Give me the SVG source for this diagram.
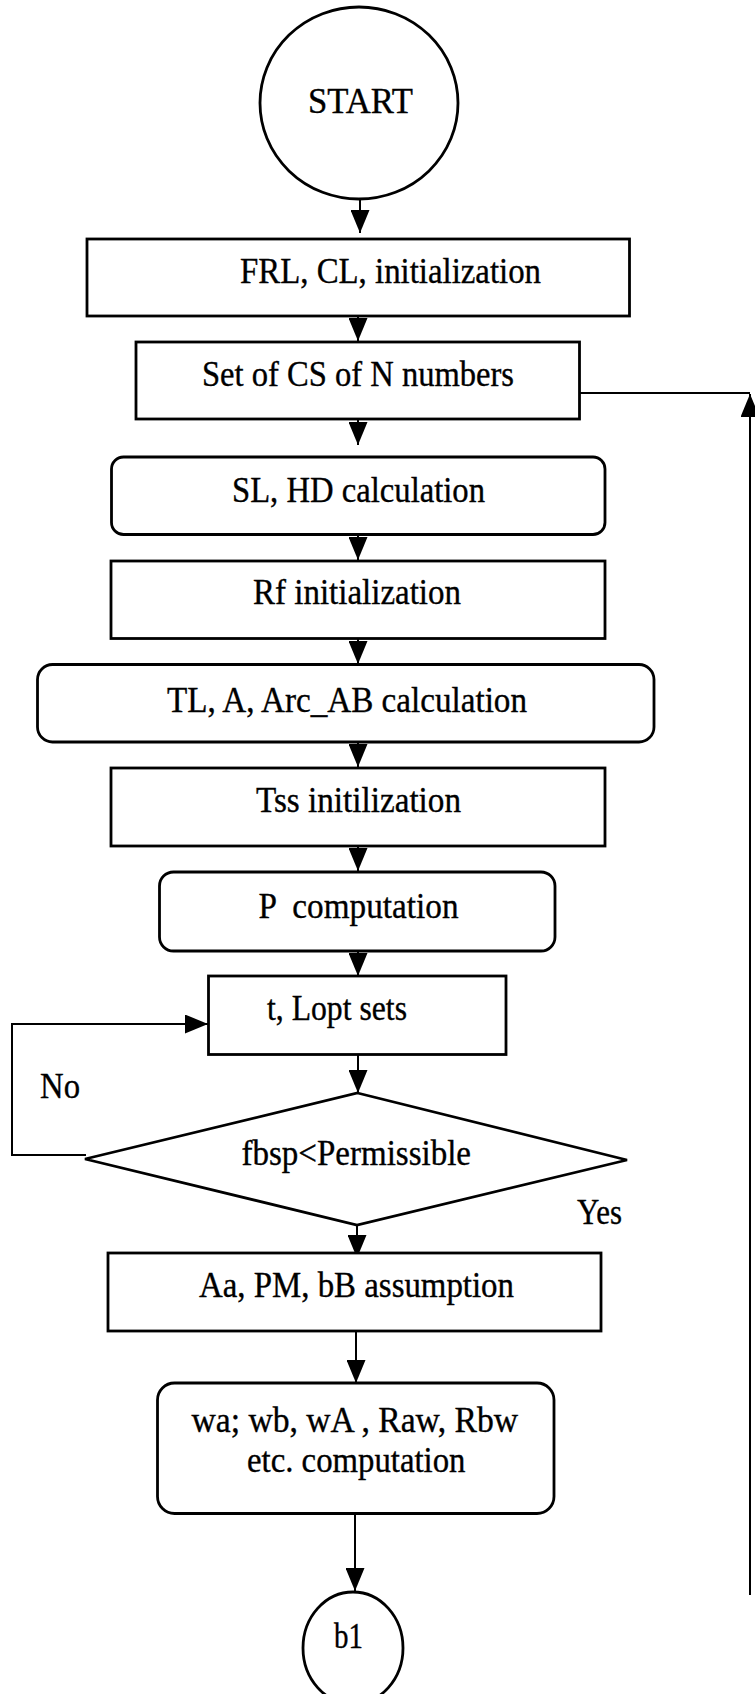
<svg xmlns="http://www.w3.org/2000/svg" width="755" height="1694" viewBox="0 0 755 1694">
<style>
.box{fill:#fff;stroke:#000;stroke-width:2.8}
.con{fill:none;stroke:#000;stroke-width:2}
.t{font-family:"Liberation Serif","Times New Roman",serif;font-size:35px;fill:#000;stroke:#000;stroke-width:0.35;white-space:pre}
</style>
<defs>
<marker id="ah" viewBox="0 0 23 19" refX="23" refY="9.5" markerWidth="23" markerHeight="19" markerUnits="userSpaceOnUse" orient="auto">
<path d="M0,0 L23,9.5 L0,19 z" fill="#000"/>
</marker>
</defs>
<rect width="755" height="1694" fill="#fff"/>
<g id="connectors">
<line class="con" x1="360" y1="198" x2="360" y2="233" marker-end="url(#ah)"/>
<line class="con" x1="358" y1="316" x2="358" y2="341" marker-end="url(#ah)"/>
<line class="con" x1="358" y1="419" x2="358" y2="445" marker-end="url(#ah)"/>
<line class="con" x1="358" y1="534" x2="358" y2="560" marker-end="url(#ah)"/>
<line class="con" x1="358" y1="638" x2="358" y2="664" marker-end="url(#ah)"/>
<line class="con" x1="358" y1="742" x2="358" y2="767" marker-end="url(#ah)"/>
<line class="con" x1="358" y1="846" x2="358" y2="871" marker-end="url(#ah)"/>
<line class="con" x1="358" y1="951" x2="358" y2="976" marker-end="url(#ah)"/>
<line class="con" x1="358" y1="1040" x2="358" y2="1093" marker-end="url(#ah)"/>
<line class="con" x1="357" y1="1225" x2="357" y2="1258" marker-end="url(#ah)"/>
<line class="con" x1="356" y1="1331" x2="356" y2="1383" marker-end="url(#ah)"/>
<line class="con" x1="355" y1="1513" x2="355" y2="1591" marker-end="url(#ah)"/>
<path class="con" d="M86,1155 H12 V1024 H208" marker-end="url(#ah)"/>
<path class="con" d="M579,393 H750"/>
<line class="con" x1="750" y1="1595" x2="750" y2="394" marker-end="url(#ah)"/>
<text class="t" x="40" y="1098" textLength="40" lengthAdjust="spacingAndGlyphs">No</text>
<text class="t" x="577" y="1224" textLength="45" lengthAdjust="spacingAndGlyphs">Yes</text>
</g>
<g id="start">
<ellipse class="box" cx="359" cy="103" rx="99" ry="96"/>
<text class="t" x="308" y="113" textLength="105" lengthAdjust="spacingAndGlyphs">START</text>
</g>
<g id="frl">
<rect class="box" x="87" y="239" width="542.5" height="77"/>
<text class="t" x="240" y="283" textLength="301" lengthAdjust="spacingAndGlyphs">FRL, CL, initialization</text>
</g>
<g id="setcs">
<rect class="box" x="136" y="342" width="443.5" height="77"/>
<text class="t" x="202" y="386" textLength="312" lengthAdjust="spacingAndGlyphs">Set of CS of N numbers</text>
</g>
<g id="slhd">
<rect class="box" x="111.5" y="457" width="493.5" height="77.5" rx="12"/>
<text class="t" x="232" y="502" textLength="253" lengthAdjust="spacingAndGlyphs">SL, HD calculation</text>
</g>
<g id="rf">
<rect class="box" x="111" y="561" width="494" height="77.5"/>
<text class="t" x="253" y="604" textLength="208" lengthAdjust="spacingAndGlyphs">Rf initialization</text>
</g>
<g id="tl">
<rect class="box" x="37.5" y="664.5" width="616.5" height="77.5" rx="15"/>
<text class="t" x="167" y="712" textLength="360" lengthAdjust="spacingAndGlyphs">TL, A, Arc_AB calculation</text>
</g>
<g id="tss">
<rect class="box" x="111" y="768" width="494" height="78"/>
<text class="t" x="256" y="812" textLength="205" lengthAdjust="spacingAndGlyphs">Tss initilization</text>
</g>
<g id="p">
<rect class="box" x="159.5" y="872" width="395.5" height="79" rx="14"/>
<text class="t" x="258.5" y="918" textLength="200" lengthAdjust="spacingAndGlyphs">P  computation</text>
</g>
<g id="tlopt">
<rect class="box" x="208.5" y="976" width="297.5" height="78.5"/>
<text class="t" x="267" y="1020" textLength="140" lengthAdjust="spacingAndGlyphs">t, Lopt sets</text>
</g>
<g id="decision">
<polygon class="box" points="357.5,1093 627,1160 357,1225 85,1159"/>
<text class="t" x="241.5" y="1165" textLength="229.5" lengthAdjust="spacingAndGlyphs">fbsp&lt;Permissible</text>
</g>
<g id="aa">
<rect class="box" x="108" y="1253" width="493" height="78"/>
<text class="t" x="199" y="1297" textLength="315" lengthAdjust="spacingAndGlyphs">Aa, PM, bB assumption</text>
</g>
<g id="wa">
<rect class="box" x="157.5" y="1383" width="396.5" height="130.5" rx="17"/>
<text class="t" x="191.5" y="1432" textLength="326.5" lengthAdjust="spacingAndGlyphs">wa; wb, wA , Raw, Rbw</text>
<text class="t" x="247" y="1472" textLength="218.5" lengthAdjust="spacingAndGlyphs">etc. computation</text>
</g>
<g id="b1">
<ellipse class="box" cx="353" cy="1648" rx="50" ry="56"/>
<text class="t" x="334" y="1648" textLength="29" lengthAdjust="spacingAndGlyphs">b1</text>
</g>
</svg>
